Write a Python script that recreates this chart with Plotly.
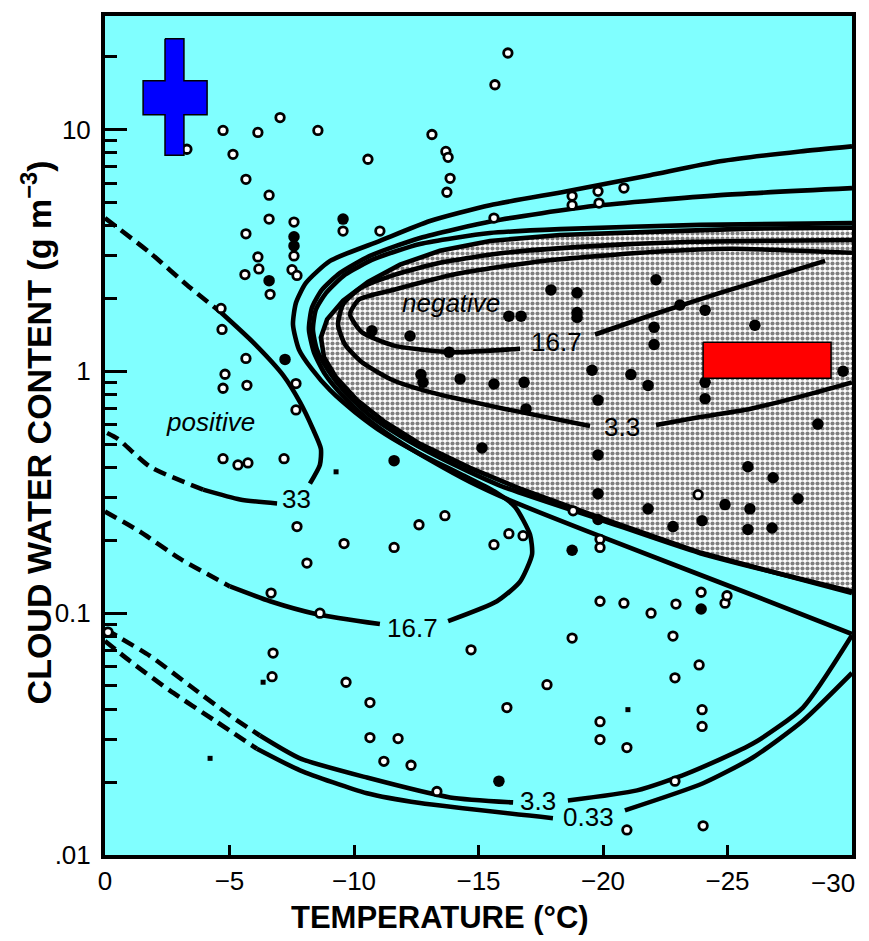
import math
import plotly.graph_objects as go

# ---------------- contour lines (T in degC, W in g m^-3) ----------------
# positive 33
c33_dash_a_T = [0, -1.81, -3.41, -4.66]
c33_dash_a_W = [4.30, 3.09, 2.22, 1.75]
c33_solid_a_T = [-4.66, -5.94, -7.15, -7.83, -8.35, -8.67, -8.63, -8.23]
c33_solid_a_W = [1.75, 1.32, 0.964, 0.745, 0.577, 0.478, 0.41, 0.343]
c33_solid_b_T = [-6.91, -5.42, -3.94]
c33_solid_b_W = [0.284, 0.295, 0.324]
c33_dash_b_T = [-3.94, -1.81, -0.52, 0]
c33_dash_b_W = [0.324, 0.403, 0.525, 0.561]

# positive 16.7
c167_dash_T = [0, -1.41, -3.01, -5.02]
c167_dash_W = [0.263, 0.217, 0.168, 0.129]
c167_solid_a_T = [-5.02, -6.63, -8.51, -11.04]
c167_solid_a_W = [0.129, 0.112, 0.099, 0.0901]
c167_solid_b_T = [-13.78, -15.74, -16.67, -17.15, -17.07, -16.47, -15.66, -14.26, -12.65,
                  -11.24, -10.04, -9.04, -8.31, -7.79, -7.55, -7.67, -8.07, -9.04, -11.04,
                  -13.05, -15.46, -18.55, -21.89, -24.70, -27.91, -30]
c167_solid_b_W = [0.0927, 0.112, 0.135, 0.175, 0.211, 0.275, 0.318, 0.377, 0.455,
                  0.551, 0.678, 0.835, 1.02, 1.23, 1.56, 1.92, 2.32, 2.86, 3.46,
                  4.18, 4.86, 5.55, 6.47, 7.38, 8.11, 8.51]

# positive 3.3 (arm around the negative tongue)
c33p_arm_T = [-30, -25.9, -19.88, -16.39, -14.66, -13.05, -11.65, -10.44, -9.52, -8.84,
              -8.39, -8.19, -8.31, -8.71, -9.44, -10.64, -12.65, -15.58, -19.60, -24.70, -30]
c33p_arm_W = [0.082, 0.120, 0.208, 0.289, 0.349, 0.430, 0.525, 0.647, 0.797, 0.972,
              1.20, 1.49, 1.83, 2.17, 2.55, 3.0, 3.56, 4.18, 4.82, 5.35, 5.72]
# positive 3.3 (bottom)
c33p_dash_T = [0, -1.81, -3.41, -5.02, -6.22]
c33p_dash_W = [0.0859, 0.0665, 0.0501, 0.0377, 0.0312]
c33p_solid_a_T = [-6.22, -7.83, -10.52, -13.86, -16.39]
c33p_solid_a_W = [0.0312, 0.0251, 0.0209, 0.0173, 0.0165]
c33p_solid_b_T = [-18.59, -21.37, -23.37, -26.02, -28.03, -30]
c33p_solid_b_W = [0.0168, 0.0185, 0.0217, 0.0289, 0.0407, 0.081]

# positive 0.33 (arm) and bottom
c033_arm_T = [-30, -23.90, -19.88, -15.86, -13.45, -11.85, -10.56, -9.64, -8.96, -8.51, -8.35,
              -8.47, -8.88, -9.64, -10.84, -12.65, -15.46, -18.27, -23.90, -30]
c033_arm_W = [0.123, 0.177, 0.244, 0.337, 0.439, 0.541, 0.666, 0.82, 1.01, 1.23, 1.49,
              1.80, 2.11, 2.51, 2.92, 3.36, 3.73, 3.87, 4.03, 4.10]
c033_dash_T = [0, -1.0, -2.61, -4.42, -6.10]
c033_dash_W = [0.0767, 0.0634, 0.0478, 0.0359, 0.0275]
c033_solid_a_T = [-6.10, -7.83, -10.52, -12.65, -17.99]
c033_solid_a_W = [0.0275, 0.0224, 0.0180, 0.0164, 0.0142]
c033_solid_b_T = [-20.88, -24.02, -26.02, -28.03, -30]
c033_solid_b_W = [0.0153, 0.0198, 0.0253, 0.0359, 0.0566]

# zero line (boundary of the negative, shaded region)
zero_T = [-30, -25.90, -21.89, -18.27, -15.46, -13.45, -11.85, -10.56, -9.56, -8.92, -8.67,
          -8.80, -9.28, -10.12, -11.24, -12.65, -14.66, -16.67, -19.88, -23.90, -30]
zero_W = [3.92, 3.89, 3.77, 3.66, 3.46, 3.15, 2.76, 2.34, 1.96, 1.64, 1.38,
          1.14, 0.944, 0.760, 0.617, 0.501, 0.399, 0.327, 0.248, 0.178, 0.121]

# negative 3.3
n33_a_T = [-30, -28.15, -25.90, -23.90, -22.13]
n33_a_W = [0.90, 0.797, 0.699, 0.647, 0.600]
n33_b_T = [-19.48, -16.06, -13.05, -11.57, -10.32, -9.64, -9.36, -9.56, -10.24, -11.65,
           -13.45, -16.06, -19.08, -23.61, -30]
n33_b_W = [0.594, 0.699, 0.82, 0.918, 1.09, 1.29, 1.56, 1.89, 2.20, 2.51,
           2.81, 3.09, 3.27, 3.43, 3.49]

# negative 16.7
n167_a_T = [-28.92, -27.11, -24.70, -21.89, -19.68]
n167_a_W = [2.86, 2.51, 2.11, 1.70, 1.42]
n167_b_T = [-16.67, -13.82, -11.57, -10.32, -9.84, -10.20, -11.57, -14.14, -17.59, -22.13,
            -25.14, -30]
n167_b_W = [1.24, 1.20, 1.28, 1.45, 1.72, 1.98, 2.17, 2.53, 2.86, 3.12,
            3.21, 3.09]

# ---------------- observations ----------------
open_T = [-16.18, -15.66, -3.29, -4.74, -6.14, -7.03, -8.55, -5.14, -10.56, -13.13, -13.69,
          -13.78, -13.86, -13.73, -5.66, -6.59, -6.59, -7.59, -9.56, -5.66, -6.14, -6.18,
          -5.62, -7.51, -7.71, -6.63, -4.66, -4.70, -7.59, -11.04, -18.76, -18.76, -19.80,
          -19.84, -20.84, -15.62,
          -5.66, -4.82, -4.74, -5.70, -7.67, -7.67, -4.74, -5.34, -5.74, -7.19, -7.71,
          -9.60, -11.61, -12.61, -13.65, -8.11, -6.67, -8.63, -16.22, -16.79, -15.62,
          -18.80, -19.88, -19.88, -19.88, -20.84, -21.93, -22.93, -23.94, -24.90, -24.98,
          -18.76, -22.81, -14.70, -23.86, -22.89, -17.75, -23.82,
          -0.12, -6.75, -6.71, -9.68, -10.64, -10.64, -11.77, -11.20, -12.29, -13.33,
          -16.14, -19.88, -19.88, -20.96, -23.98, -23.98, -22.89, -20.96, -24.02]
open_W = [20.7, 15.3, 8.28, 9.91, 9.72, 11.2, 9.91, 7.89, 7.53, 9.53, 8.11,
          7.67, 6.28, 5.50, 6.22, 5.35, 4.26, 4.14, 3.80, 3.70, 2.97, 2.65,
          2.51, 2.63, 2.49, 2.08, 1.82, 1.49, 3.0, 3.80, 5.30, 4.86, 5.55,
          4.96, 5.72, 4.30,
          1.13, 0.972, 0.851, 0.875, 0.89, 0.692, 0.435, 0.41, 0.418, 0.435, 0.228,
          0.194, 0.187, 0.232, 0.253, 0.161, 0.121, 0.10, 0.213, 0.209, 0.192,
          0.265, 0.202, 0.187, 0.112, 0.110, 0.100, 0.109, 0.122, 0.110, 0.118,
          0.0789, 0.0804, 0.0705, 0.0611, 0.054, 0.0506, 0.309,
          0.0835, 0.0684, 0.0546, 0.0518, 0.0427, 0.0306, 0.0303, 0.0244, 0.0235, 0.0183,
          0.0407, 0.0356, 0.030, 0.0278, 0.0399, 0.0340, 0.0202, 0.0127, 0.0132]

filled_T = [-9.56, -6.59, -7.59, -7.59, -7.23, -11.61, -18.76, -23.94, -15.82, -19.80, -15.14,
            -19.80, -19.80, -21.81, -22.81, -23.98, -24.90, -25.90, -25.82, -26.79, -25.82,
            -26.83, -27.83, -28.63, -22.13, -17.91, -18.96, -18.96, -18.96, -23.09, -24.10,
            -26.10, -22.05, -22.05, -19.56, -21.12, -21.81, -16.83, -15.62, -14.26, -12.77,
            -12.69, -13.82, -10.72, -12.25, -16.22, -16.71, -24.10, -24.10, -16.91, -19.8,
            -29.64]
filled_W = [4.26, 2.37, 3.30, 3.60, 1.12, 0.427, 0.182, 0.104, 0.0202, 0.244, 0.482,
            0.451, 0.312, 0.270, 0.228, 0.241, 0.281, 0.27, 0.222, 0.225, 0.403,
            0.363, 0.297, 0.605, 2.39, 2.17, 2.11, 1.75, 1.67, 1.88, 1.79,
            1.55, 1.52, 1.29, 1.01, 0.97, 0.874, 0.90, 0.886, 0.93, 0.90,
            0.97, 1.20, 1.47, 1.40, 1.69, 1.69, 0.90, 0.77, 0.699, 0.76,
            1.0]

small_T = [-9.28, -21.0, -6.35, -4.22]
small_W = [0.384, 0.0399, 0.0518, 0.0251]

# ---------------- labels ----------------
contour_labels = ["33", "16.7", "3.3", "0.33", "16.7", "3.3"]
contour_label_T = [-7.71, -12.33, -17.39, -19.40, -18.15, -20.76]
contour_label_W = [0.297, 0.0867, 0.0168, 0.0143, 1.32, 0.589]
region_labels = ["positive", "negative"]
region_label_T = [-4.22, -13.9]
region_label_W = [0.617, 1.92]

# symbols (plus sign, red bar)
cross_T = [-2.41, -3.17, -3.17, -4.10, -4.10, -3.17, -3.17, -2.41, -2.41, -1.53, -1.53, -2.41, -2.41]
cross_W = [23.7, 23.7, 15.9, 15.9, 11.5, 11.5, 7.82, 7.82, 11.5, 11.5, 15.9, 15.9, 23.7]
bar_T = [-24.02, -29.16, -29.16, -24.02, -24.02]
bar_W = [1.32, 1.32, 0.935, 0.935, 1.32]

x_ticks = [0, -5, -10, -15, -20, -25, -30]
x_ticktext = ["0", "\u22125", "\u221210", "\u221215", "\u221220", "\u221225", "\u221230"]
y_ticks = [0.01, 0.1, 1, 10]
y_ticktext = [".01", "0.1", "1", "10"]
y_minor = [m * d for d in (0.01, 0.1, 1, 10) for m in range(2, 10)]

LW = 4.6
DASH = "13px,7px"
FONT = "Liberation Sans, Arial, Helvetica"

fig = go.Figure()

# shaded negative region
fig.add_trace(go.Scatter(x=zero_T, y=zero_W, mode="lines", fill="toself",
                         line=dict(color="black", width=LW),
                         fillpattern=dict(shape=".", size=5, solidity=0.55,
                                          fgcolor="black", bgcolor="white")))


def line(xs, ys, dashed=False):
    fig.add_trace(go.Scatter(x=xs, y=ys, mode="lines",
                             line=dict(color="black", width=LW, shape="spline", smoothing=0.6,
                                       dash=DASH if dashed else "solid")))


line(c33_dash_a_T, c33_dash_a_W, True)
line(c33_solid_a_T, c33_solid_a_W)
line(c33_solid_b_T, c33_solid_b_W)
line(c33_dash_b_T, c33_dash_b_W, True)
line(c167_dash_T, c167_dash_W, True)
line(c167_solid_a_T, c167_solid_a_W)
line(c167_solid_b_T, c167_solid_b_W)
line(c33p_arm_T, c33p_arm_W)
line(c33p_dash_T, c33p_dash_W, True)
line(c33p_solid_a_T, c33p_solid_a_W)
line(c33p_solid_b_T, c33p_solid_b_W)
line(c033_arm_T, c033_arm_W)
line(c033_dash_T, c033_dash_W, True)
line(c033_solid_a_T, c033_solid_a_W)
line(c033_solid_b_T, c033_solid_b_W)
line(n33_a_T, n33_a_W)
line(n33_b_T, n33_b_W)
line(n167_a_T, n167_a_W)
line(n167_b_T, n167_b_W)

# observations
fig.add_trace(go.Scatter(x=open_T, y=open_W, mode="markers",
                         marker=dict(symbol="circle", size=8.5, color="white",
                                     line=dict(color="black", width=2.8))))
fig.add_trace(go.Scatter(x=filled_T, y=filled_W, mode="markers",
                         marker=dict(symbol="circle", size=11.5, color="black")))
fig.add_trace(go.Scatter(x=small_T, y=small_W, mode="markers",
                         marker=dict(symbol="square", size=5, color="black")))

# symbols
fig.add_trace(go.Scatter(x=cross_T, y=cross_W, mode="lines", fill="toself",
                         fillcolor="#0000FF", line=dict(color="black", width=1.5)))
fig.add_trace(go.Scatter(x=bar_T, y=bar_W, mode="lines", fill="toself",
                         fillcolor="#FF0000", line=dict(color="black", width=1.5)))

annotations = []
for t, x, y in zip(contour_labels, contour_label_T, contour_label_W):
    annotations.append(dict(x=x, y=math.log10(y), xref="x", yref="y", text=t,
                            showarrow=False, font=dict(size=26, color="black", family=FONT)))
for t, x, y in zip(region_labels, region_label_T, region_label_W):
    annotations.append(dict(x=x, y=math.log10(y), xref="x", yref="y", text="<i>" + t + "</i>",
                            showarrow=False, font=dict(size=26, color="black", family=FONT)))
# last x tick label: right-aligned on its tick so it stays inside the figure
annotations.append(dict(x=x_ticks[-1], y=-0.033, xref="x", yref="paper",
                        xanchor="right", yanchor="middle", xshift=5,
                        text=x_ticktext[-1], showarrow=False,
                        font=dict(size=26, color="black", family=FONT)))
annotations.append(dict(x=0.448, y=-0.0747, xref="paper", yref="paper",
                        xanchor="center", yanchor="middle",
                        text="<b>TEMPERATURE (°C)</b>", showarrow=False,
                        font=dict(size=31, color="black", family=FONT)))
annotations.append(dict(x=-0.092, y=0.504, xref="paper", yref="paper", textangle=-90,
                        xanchor="center", yanchor="middle",
                        text="<b>CLOUD WATER CONTENT (g m<sup>\u22123</sup>)</b>", showarrow=False,
                        font=dict(size=34, color="black", family=FONT)))

# the page body adds an 8 px offset, so the figure is 8 px smaller and margins compensate
fig.update_layout(
    width=861, height=933,
    margin=dict(l=97, r=17, t=4, b=86),
    paper_bgcolor="white", plot_bgcolor="#80FFFF",
    showlegend=False,
    annotations=annotations,
    xaxis=dict(range=[0, -30], tickvals=x_ticks, ticktext=x_ticktext[:-1] + [""],
               ticks="inside", ticklen=10, tickwidth=3, tickcolor="black",
               showline=True, linewidth=4, linecolor="black", mirror=True,
               showgrid=False, zeroline=False,
               tickfont=dict(size=26, color="black", family=FONT)),
    yaxis=dict(type="log", range=[-2, 1.469], tickvals=y_ticks, ticktext=y_ticktext,
               ticks="inside", ticklen=22, tickwidth=3, tickcolor="black",
               ticklabelstandoff=5,
               minor=dict(tickvals=y_minor, ticks="inside", ticklen=12, tickwidth=3,
                          tickcolor="black", showgrid=False),
               showline=True, linewidth=4, linecolor="black", mirror=True,
               showgrid=False, zeroline=False,
               tickfont=dict(size=26, color="black", family=FONT)),
)

fig.write_html("out.html")
